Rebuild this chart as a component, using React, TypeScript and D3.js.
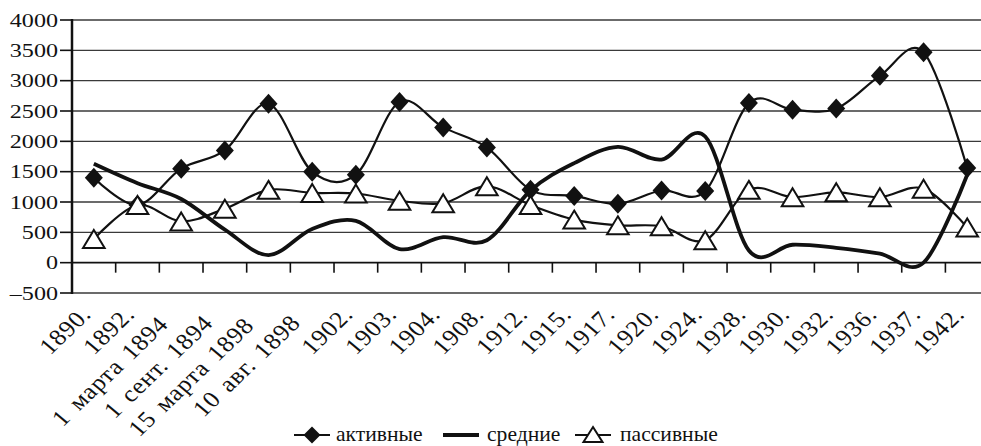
import React, { useEffect, useRef } from "react";
import * as d3 from "d3";

// Categories (dates) along the x axis
const categories = [
  "1890.",
  "1892.",
  "1 марта 1894",
  "1 сент. 1894",
  "15 марта 1898",
  "10 авг. 1898",
  "1902.",
  "1903.",
  "1904.",
  "1908.",
  "1912.",
  "1915.",
  "1917.",
  "1920.",
  "1924.",
  "1928.",
  "1930.",
  "1932.",
  "1936.",
  "1937.",
  "1942.",
];

// Series values
const active = [
  1400, 950, 1550, 1850, 2620, 1500, 1450, 2650, 2230, 1900, 1200, 1100, 970,
  1190, 1180, 2630, 2520, 2540, 3080, 3470, 1560,
];
const middle = [
  1630, 1310, 1050, 545, 125, 555, 690, 225, 420, 370, 1190, 1640, 1910, 1700,
  2080, 200, 295, 245, 150, 0, 1450,
];
const passive = [
  390, 950, 680, 890, 1200, 1150, 1140, 1020, 980, 1260, 950, 710, 615, 600,
  370, 1200, 1080, 1160, 1080, 1220, 580,
];

// Y axis ticks
const yTicks = [-500, 0, 500, 1000, 1500, 2000, 2500, 3000, 3500, 4000];

const legendItems = [
  { key: "active", label: "активные" },
  { key: "middle", label: "средние" },
  { key: "passive", label: "пассивные" },
];

const FONT = "'Liberation Serif', 'Times New Roman', serif";
const SX = 1.27; // y axis digits in the source are wide

const App: React.FC = () => {
  const svgRef = useRef<SVGSVGElement>(null);

  useEffect(() => {
    if (!svgRef.current) return;
    const svg = d3.select(svgRef.current);
    svg.selectAll("*").remove();

    const width = 981;
    const height = 446;
    const left = 72;
    const step = 43.67;
    const top = 20;
    const bottom = 293;

    svg.attr("width", width).attr("height", height);

    const x = d3
      .scaleBand<string>()
      .domain(categories)
      .range([left, left + step * categories.length])
      .paddingInner(0)
      .paddingOuter(0);
    const y = d3.scaleLinear().domain([-500, 4000]).range([bottom, top]);
    const cx = (i: number) => (x(categories[i]) as number) + x.bandwidth() / 2;

    // Gridlines
    svg
      .append("g")
      .selectAll("line")
      .data(yTicks)
      .enter()
      .append("line")
      .attr("x1", left)
      .attr("x2", width)
      .attr("y1", (d) => y(d))
      .attr("y2", (d) => y(d))
      .attr("stroke", (d) => (d === 0 ? "#111" : "#3a3a3a"))
      .attr("stroke-width", (d) => (d === 0 ? 1.8 : 1.4));

    // Y ticks and labels
    const yg = svg.append("g");
    yg.selectAll("line")
      .data(yTicks)
      .enter()
      .append("line")
      .attr("x1", 60)
      .attr("x2", left)
      .attr("y1", (d) => y(d))
      .attr("y2", (d) => y(d))
      .attr("stroke", "#111")
      .attr("stroke-width", 1.6);
    yg.selectAll("text")
      .data(yTicks)
      .enter()
      .append("text")
      .attr("transform", (d) => `translate(58, ${y(d) + 6.5}) scale(${SX}, 1)`)
      .attr("text-anchor", "end")
      .style("font-family", FONT)
      .style("font-size", "19px")
      .style("fill", "#111")
      .text((d) => (d < 0 ? `\u2013${Math.abs(d)}` : `${d}`));

    // Left axis line
    svg
      .append("line")
      .attr("x1", left)
      .attr("x2", left)
      .attr("y1", top - 1)
      .attr("y2", bottom + 1)
      .attr("stroke", "#111")
      .attr("stroke-width", 2.5);

    // Category ticks on the zero line
    svg
      .append("g")
      .selectAll("line")
      .data(categories.slice(1))
      .enter()
      .append("line")
      .attr("x1", (d) => x(d) as number)
      .attr("x2", (d) => x(d) as number)
      .attr("y1", y(0))
      .attr("y2", y(0) + 10)
      .attr("stroke", "#111")
      .attr("stroke-width", 1.6);

    // Rotated category labels: end of text near the category centre,
    // longer labels slide down along their own baseline
    const xl = svg
      .append("g")
      .selectAll("text")
      .data(categories)
      .enter()
      .append("text")
      .attr(
        "transform",
        (d, i) => `translate(${cx(i) - 1}, 315) scale(1.12, 1) rotate(-47)`
      )
      .attr("text-anchor", "end")
      .style("font-family", FONT)
      .style("font-size", "23px")
      .style("letter-spacing", "0.7px")
      .style("word-spacing", "3px")
      .style("fill", "#111")
      .text((d) => d);
    xl.each(function () {
      const el = this as SVGTextElement;
      const len = el.getComputedTextLength();
      const shift = Math.max(0, 0.16 * (len - 52));
      d3.select(el).attr("x", -shift);
    });

    const curve = d3.curveCatmullRom.alpha(0);
    const line = d3
      .line<number>()
      .x((_, i) => cx(i))
      .y((d) => y(d))
      .curve(curve);

    const diamond = "M0,-10L9,0L0,10L-9,0Z";
    const triangle = "M0,-9L10.8,9L-10.8,9Z";

    // Active series
    svg
      .append("path")
      .attr("d", line(active) as string)
      .attr("fill", "none")
      .attr("stroke", "#111")
      .attr("stroke-width", 2.2);
    svg
      .append("g")
      .selectAll("path")
      .data(active)
      .enter()
      .append("path")
      .attr("d", diamond)
      .attr("transform", (d, i) => `translate(${cx(i)}, ${y(d)})`)
      .attr("fill", "#111");

    // Middle series
    svg
      .append("path")
      .attr("d", line(middle) as string)
      .attr("fill", "none")
      .attr("stroke", "#111")
      .attr("stroke-width", 3.8);

    // Passive series
    svg
      .append("path")
      .attr("d", line(passive) as string)
      .attr("fill", "none")
      .attr("stroke", "#111")
      .attr("stroke-width", 2.2);
    svg
      .append("g")
      .selectAll("path")
      .data(passive)
      .enter()
      .append("path")
      .attr("d", triangle)
      .attr("transform", (d, i) => `translate(${cx(i)}, ${y(d)})`)
      .attr("fill", "white")
      .attr("stroke", "#111")
      .attr("stroke-width", 2);

    // Legend
    const legendX = [294, 443, 575];
    const textX = [336, 487, 620];
    const ly = 435;
    const lg = svg.append("g");
    legendItems.forEach((item, k) => {
      const x0 = legendX[k];
      lg.append("line")
        .attr("x1", x0)
        .attr("x2", x0 + 36)
        .attr("y1", ly)
        .attr("y2", ly)
        .attr("stroke", "#111")
        .attr("stroke-width", item.key === "middle" ? 4 : 2.2);
      if (item.key === "active") {
        lg.append("path")
          .attr("d", "M0,-8.5L8.5,0L0,8.5L-8.5,0Z")
          .attr("transform", `translate(${x0 + 18}, ${ly})`)
          .attr("fill", "#111");
      }
      if (item.key === "passive") {
        lg.append("path")
          .attr("d", "M0,-8L9.5,7L-9.5,7Z")
          .attr("transform", `translate(${x0 + 18}, ${ly})`)
          .attr("fill", "white")
          .attr("stroke", "#111")
          .attr("stroke-width", 2);
      }
      lg.append("text")
        .attr("transform", `translate(${textX[k]}, ${ly + 6}) scale(1.03, 1)`)
        .style("font-family", FONT)
        .style("font-size", "21px")
        .style("fill", "#111")
        .text(item.label);
    });
  }, []);

  return (
    <div style={{ position: "absolute", left: 0, top: 0 }}>
      <svg ref={svgRef} style={{ display: "block", background: "white" }}></svg>
    </div>
  );
};

export default App;
